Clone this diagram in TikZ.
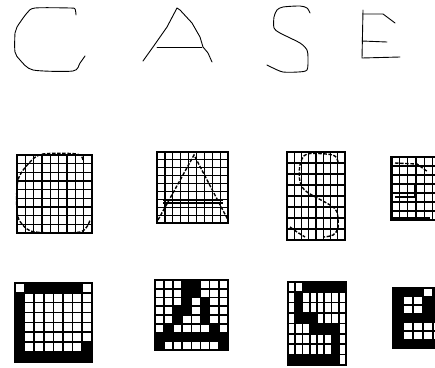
\documentclass[tikz,border=0pt]{standalone}
\usepackage{tikz}

\begin{document}
\begin{tikzpicture}[x=1pt, y=-1pt,
  pen/.style={line width=0.9pt, line cap=round, line join=round},
  trace/.style={line width=1.4pt, dash pattern=on 3.5pt off 1.6pt},
  cellline/.style={line width=1.2pt, step=1},
  bitline/.style={line width=1.7pt, step=1},
  border/.style={line width=1.6pt},
  cell/.style={fill=black}
]
\clip (0,0) rectangle (435,367);
\fill[white] (0,0) rectangle (435,367);

% handwritten letters
\draw[pen] plot[smooth, tension=0.45] coordinates {(76,15) (75,9) (70,8) (35,8) (27,13) (17,27) (15,33) (15,52) (20,60) (33,70) (73,71) (80,63) (85,56)};
\draw[pen] (143,61) -- (153,47) -- (167,27) -- (177,8) -- (180,10) -- (192,23) -- (200,37) -- (203,47) -- (208,53) -- (212,62);
\draw[pen] (157,47) -- (202,47);
\draw[pen] plot[smooth, tension=0.45] coordinates {(310,13) (307,8) (300,6) (283,7) (277,10) (274,17) (274,28) (280,33) (300,43) (307,50) (308,58) (307,70) (298,72) (283,72) (273,68) (267,65)};
\draw[pen] (363,10) -- (362,58) -- (400,57);
\draw[pen] (363,14) -- (383,14) -- (395,23);
\draw[pen] (362,41) -- (387,42);

% letters traced on grids
\begin{scope}[shift={(17,233)}, x=8.33pt, y=8.67pt]
  \draw[cellline] (0,0) grid (9,9);
  \draw[border] (0,0) rectangle (9,9);
\end{scope}
\draw[trace] plot[smooth, tension=0.5] coordinates {(83,160) (77,154) (43,154) (30,162) (18,180) (17,212) (22,224) (35,232) (80,232) (90,220)};

\begin{scope}[shift={(157,223)}, x=7.9pt, y=7.9pt]
  \draw[cellline] (0,0) grid (9,9);
  \draw[border] (0,0) rectangle (9,9);
\end{scope}
\draw[trace] (158,220) -- (194,155) -- (228,220);
\draw[line width=1.2pt] (163,200) -- (223,200);
\draw[line width=1.2pt] (163,203) -- (223,203);

\begin{scope}[shift={(287,240)}, x=7.25pt, y=11pt]
  \draw[cellline] (0,0) grid (8,8);
  \draw[border] (0,0) rectangle (8,8);
\end{scope}
\draw[trace] plot[smooth, tension=0.5] coordinates {(338,162) (333,155) (307,154) (300,165) (300,182) (307,192) (330,205) (337,212) (338,228) (333,235) (324,237)};
\draw[trace] (290,227) -- (297,232) -- (305,237);

\begin{scope}[shift={(391,220)}, x=8.3pt, y=9pt]
  \draw[cellline] (0,0) grid (6,7);
  \draw[border] (0,0) rectangle (6,7);
\end{scope}
\draw[line width=1.8pt] (392,157) -- (392,220);
\draw[trace] (395,163) -- (417,164) -- (428,172);
\draw[line width=1.4pt] (395,197) -- (415,197) -- (415,185);
\draw[line width=1.4pt] (392,218) -- (430,218);

% bitmaps
\begin{scope}[shift={(15,362)}, x=9.6pt, y=9.9pt]
  \fill[cell] (1,7) rectangle (7,8);
  \fill[cell] (0,0) rectangle (1,7);
  \fill[cell] (0,0) rectangle (8,1);
  \fill[cell] (7,1) rectangle (8,2);
  \draw[bitline] (0,0) grid (8,8);
  \draw[border] (0,0) rectangle (8,8);
\end{scope}

\begin{scope}[shift={(155,350)}, x=9.1pt, y=8.75pt]
  \fill[cell] (3,6) rectangle (5,8);
  \fill[cell] (3,5) rectangle (4,6);
  \fill[cell] (5,3) rectangle (6,6);
  \fill[cell] (2,3) rectangle (3,5);
  \fill[cell] (3,4) rectangle (4,5);
  \fill[cell] (1,2) rectangle (2,3);
  \fill[cell] (6,2) rectangle (7,3);
  \fill[cell] (0,1) rectangle (8,2);
  \fill[cell] (0,0) rectangle (1,1);
  \fill[cell] (7,0) rectangle (8,1);
  \draw[bitline] (0,0) grid (8,8);
  \draw[border] (0,0) rectangle (8,8);
\end{scope}

\begin{scope}[shift={(288,365)}, x=7.25pt, y=10.4pt]
  \fill[cell] (2,7) rectangle (8,8);
  \fill[cell] (1,4) rectangle (2,7);
  \fill[cell] (2,4) rectangle (4,5);
  \fill[cell] (3,3) rectangle (7,4);
  \fill[cell] (6,1) rectangle (7,3);
  \fill[cell] (0,0) rectangle (7,1);
  \draw[bitline] (0,0) grid (8,8);
  \draw[border] (0,0) rectangle (8,8);
\end{scope}

\begin{scope}[shift={(393,348)}, x=10pt, y=8.6pt]
  \fill[cell] (0,6) rectangle (3,7);
  \fill[cell] (4,6) rectangle (5,7);
  \fill[cell] (0,3) rectangle (1,6);
  \fill[cell] (3,4) rectangle (5,6);
  \fill[cell] (0,3) rectangle (5,4);
  \fill[cell] (0,0) rectangle (1,3);
  \fill[cell] (0,0) rectangle (5,1);
  \draw[bitline] (0,0) grid (5,7);
  \draw[border] (0,0) rectangle (5,7);
\end{scope}
\end{tikzpicture}
\end{document}
